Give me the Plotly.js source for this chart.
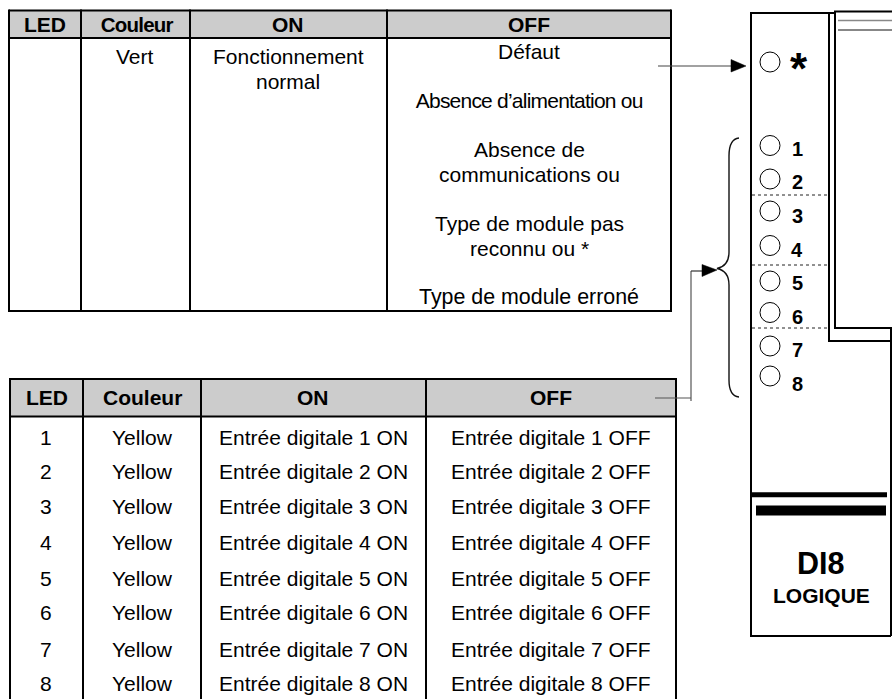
<!DOCTYPE html>
<html><head><meta charset="utf-8">
<script src="https://cdn.plot.ly/plotly-3.0.1.min.js"></script>
<style>html,body{margin:0;padding:0;background:#fff}</style></head>
<body><div id="c" style="width:892px;height:699px"></div>
<script>
const F = '"Liberation Sans", Arial, sans-serif';
// top table
const t1Header = ['LED','Couleur','ON','OFF'];
const t1HeaderX = [45,136,288,529];
const t1Cols = [9,81,190,387,671];
const t1Rows = [10.5,38,311];
const t1Text = [
 ['Vert',135,57],['Fonctionnement',288,57],['normal',288,82],
 ['Défaut',529,52],['Absence d’alimentation ou',529,101],['Absence de',529,150],
 ['communications ou',529,175],['Type de module pas',529,224],['reconnu ou *',529,249],['Type de module erroné',529,298]
];
// bottom table
const t2Header = ['LED','Couleur','ON','OFF'];
const t2HeaderX = [46.5,142,313,550.5];
const t2Cols = [10,83,201,426,676];
const t2Rows = [379,416.5];
const t2RowY = [438,472,507,543,579,613,650,684];
const leds = ['1','2','3','4','5','6','7','8'];
const colour = 'Yellow';
// module panel
const ledX = [770,770,770,770,770,770,770,770,770];
const ledY = [62,145.5,179,211,245.5,281,312.5,346,376];
const ledNumY = [150,183,217,251,284,318,351,385];
const dotY = [195,265,328];
// text squeezed in the reference: letter spacing in px
const squeezed = {'Absence d’alimentation ou':-0.78,'Couleur':-0.8};

const shapes = [];
const line=(x0,y0,x1,y1,w,c,dash)=>shapes.push({type:'line',x0,y0,x1,y1,line:{color:c||'#000',width:w||2,dash:dash||'solid'}});
const rect=(x0,y0,x1,y1,c)=>shapes.push({type:'rect',x0,y0,x1,y1,fillcolor:c,line:{width:0}});
const path=(p,w,c,fill)=>shapes.push({type:'path',path:p,line:{color:c||'#000',width:w},fillcolor:fill||'rgba(0,0,0,0)'});

rect(t1Cols[0],t1Rows[0],t1Cols[4],t1Rows[1],'#cccccc');
rect(t2Cols[0],t2Rows[0],t2Cols[4],t2Rows[1],'#cccccc');
t1Cols.forEach(x=>line(x,t1Rows[0]-1,x,t1Rows[2]+1));
t1Rows.forEach(y=>line(t1Cols[0],y,t1Cols[4],y));
t2Cols.forEach(x=>line(x,t2Rows[0]-1,x,699));
t2Rows.forEach(y=>line(t2Cols[0],y,t2Cols[4],y));

// panel
line(751,12,751,637);line(750,636,891,636);line(891,328,891,636);
line(750,13,835,13);line(829,13,829,341);line(828,341,892,341);
line(835,11,835,329);line(834,328,892,328);line(834,11.5,892,11.5);
line(838,20.5,892,20.5,1.5,'#888');line(838,30,892,30,1,'#111');
dotY.forEach(y=>line(752,y,827,y,1,'#222','dot'));
line(752,494.7,887,494.7,5);
rect(756,505.5,886,515.5,'#000');

// arrows & brace
line(658,66,733,66,1.2,'#444');
path('M731,59.5 L746,66 L731,72 Z',0.5,'#000','#000');
line(655,398,691,398,1.2,'#555');
line(691,271,691,401,1.2,'#555');
line(691,271,703,271,1.2,'#333');
path('M702,264.5 L717,270 L702,276.5 Z',0.5,'#000','#000');
path('M739,138 Q729,139 729,156 L729,252 Q729,266 717,268.5 Q729,271 729,285 L729,380 Q729,396 739,397',1.4,'#111');

const ann=[];
const T=(text,x,y,size,bold)=>ann.push({text:bold?'<b>'+text+'</b>':text,x,y:y-1,xref:'x',yref:'y',xanchor:'center',yanchor:'middle',showarrow:false,font:{family:F,size,color:'#000'},borderpad:0});
t1Header.forEach((h,i)=>T(h,t1HeaderX[i],25,i==1?20.5:21,true));
t1Text.forEach(r=>T(r[0],r[1],r[2],r[0].startsWith('Type de module e')?21.4:21));
t2Header.forEach((h,i)=>T(h,t2HeaderX[i],398,21,true));
t2RowY.forEach((y,i)=>{
  T(leds[i],46,y,21);T(colour,142,y,21);
  T('Entrée digitale '+leds[i]+' ON',313,y,21);
  T('Entrée digitale '+leds[i]+' OFF',551,y,21);
  T(leds[i],797,ledNumY[i],20,true);
});
T('*',799,69,44,true);
T('DI8',821,564,30.5,true);
T('LOGIQUE',821,596,21,true);

const data=[{type:'scatter',mode:'markers',x:ledX,y:ledY,hoverinfo:'skip',
 marker:{symbol:'circle',size:20,color:'rgba(255,255,255,0)',line:{color:'#000',width:1}}}];
const layout={width:892,height:699,margin:{l:0,r:0,t:0,b:0},paper_bgcolor:'#fff',plot_bgcolor:'#fff',showlegend:false,
 xaxis:{range:[0,892],visible:false,fixedrange:true},
 yaxis:{range:[699,0],visible:false,fixedrange:true},
 shapes,annotations:ann};
Plotly.newPlot('c',data,layout,{displayModeBar:false,staticPlot:true}).then(()=>{
  let first=true;
  document.querySelectorAll('.annotation-text').forEach(t=>{
    const s=t.textContent;
    if(s==='Couleur'){ if(first){t.style.letterSpacing=squeezed.Couleur+'px';first=false;} }
    else if(squeezed[s]!==undefined){t.style.letterSpacing=squeezed[s]+'px';}
  });
});
</script></body></html>
